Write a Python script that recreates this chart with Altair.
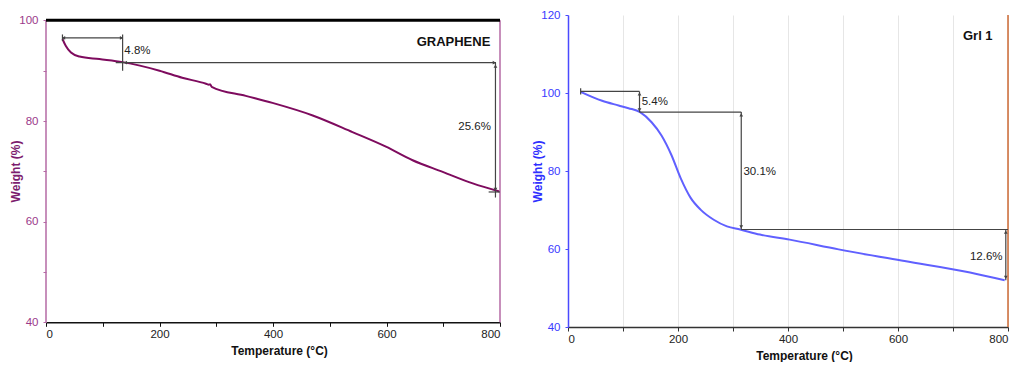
import altair as alt
import pandas as pd

# ---------------- data ----------------
g_temp = [29, 35, 44, 59, 94, 135, 200, 240, 282, 287, 289, 292, 352, 399, 470, 540, 599, 646, 699, 752, 799]
g_weight = [96.3, 94.9, 93.6, 92.8, 92.3, 91.7, 90.0, 88.6, 87.4, 87.2, 87.3, 86.8, 85.0, 83.6, 81.1, 77.8, 74.9, 72.2, 69.9, 67.6, 66.0]

r_temp = [23, 62, 92, 110, 131, 152, 170, 188, 205, 223, 241, 265, 289, 313, 349, 403, 492, 612, 731, 794]
r_weight = [100.3, 98.0, 96.8, 96.1, 95.1, 92.5, 89.1, 84.1, 78.1, 73.1, 70.1, 67.5, 65.8, 65.0, 63.7, 62.4, 59.9, 56.9, 54.0, 52.0]

# annotation segments (data coords)
g_seg_x = [29, 29, 135, 123, 792, 780]
g_seg_x2 = [135, 29, 135, 793, 792, 800]
g_seg_y = [96.5, 97.2, 97.2, 91.6, 91.6, 65.9]
g_seg_y2 = [96.5, 95.9, 90.0, 91.6, 64.8, 65.9]
g_arr_x = [31, 133, 140, 790, 792, 792]
g_arr_y = [96.5, 96.5, 91.6, 91.6, 90.9, 66.4]
g_arr_s = ["triangle-left", "triangle-right", "triangle-left", "triangle-right", "triangle-up", "triangle-down"]
g_txt = ["4.8%", "25.6%"]
g_txt_x = [138, 784]
g_txt_y = [93.9, 78.8]
g_txt_align = ["left", "right"]
g_label = "GRAPHENE"

r_seg_x = [23, 23, 130, 130, 315, 315, 796]
r_seg_x2 = [130, 23, 130, 315, 315, 800, 796]
r_seg_y = [100.4, 101.2, 100.4, 95.1, 95.1, 65.0, 65.0]
r_seg_y2 = [100.4, 99.6, 95.1, 95.1, 65.0, 65.0, 52.0]
r_arr_x = [130, 130, 315, 315, 796, 796]
r_arr_y = [99.8, 95.7, 94.4, 65.7, 64.3, 52.7]
r_arr_s = ["triangle-up", "triangle-down", "triangle-up", "triangle-down", "triangle-up", "triangle-down"]
r_txt = ["5.4%", "30.1%", "12.6%"]
r_txt_x = [134, 319, 790]
r_txt_y = [97.8, 79.7, 58.0]
r_txt_align = ["left", "left", "right"]
r_label = "Grl 1"

x_ticks = list(range(0, 801, 50))
FONT = "Liberation Sans"
ANN = "#444444"
H = 312

# ---------------- left panel: GRAPHENE ----------------
g_df = pd.DataFrame({"T": g_temp, "W": g_weight})
g_seg = pd.DataFrame({"x": g_seg_x, "x2": g_seg_x2, "y": g_seg_y, "y2": g_seg_y2})
g_arr = pd.DataFrame({"x": g_arr_x, "y": g_arr_y, "s": g_arr_s})
g_tdf = pd.DataFrame({"x": g_txt_x, "y": g_txt_y, "t": g_txt, "a": g_txt_align})

gx = alt.Scale(domain=[0, 800], nice=False, zero=False)
gy = alt.Scale(domain=[39.074, 101.064], nice=False, zero=False)

g_xaxis = alt.Axis(values=x_ticks, labelExpr="datum.value % 200 === 0 ? datum.label : ''",
                   grid=False, domainColor="#111111", domainWidth=1.5, tickColor="#111111",
                   tickSize=4, labelPadding=2, labelFontSize=11.5, labelColor="#222222",
                   title="Temperature (°C)", titleFontSize=12, titleFontWeight="bold",
                   titleColor="#111111", titlePadding=6, offset=-4.7, titleX=233,
                   labelOverlap=False)
g_yaxis = alt.Axis(values=list(range(40, 101, 5)), labelExpr="datum.value % 20 === 0 ? datum.label : ''",
                   grid=False, domain=False, tickColor="#B56AA5", tickSize=3, labelPadding=5,
                   labelFontSize=11.5, labelColor="#9B3A8A", title="Weight (%)", titleFontSize=12,
                   titleFontWeight="bold", titleColor="#7D1D6E", minExtent=22, maxExtent=22,
                   titlePadding=2, labelOverlap=False)

g_base = alt.Chart(g_df)
g_line = g_base.mark_line(color="#7E0B5E", strokeWidth=2, interpolate="monotone").encode(
    x=alt.X("T:Q", scale=gx, axis=g_xaxis),
    y=alt.Y("W:Q", scale=gy, axis=g_yaxis),
)
g_frame = pd.DataFrame({"x": [0, 800, 0], "x2": [0, 800, 800], "y": [40, 40, 100], "y2": [100, 100, 100],
                        "c": ["#B56AA5", "#B56AA5", "#000000"], "w": [1.5, 1.5, 3]})
g_border = alt.Chart(g_frame).mark_rule().encode(
    x=alt.X("x:Q", scale=gx), x2="x2:Q", y=alt.Y("y:Q", scale=gy), y2="y2:Q",
    color=alt.Color("c:N", scale=None), strokeWidth=alt.StrokeWidth("w:Q", scale=None),
)
g_rules = alt.Chart(g_seg).mark_rule(color=ANN, strokeWidth=1.2).encode(
    x=alt.X("x:Q", scale=gx), x2="x2:Q", y=alt.Y("y:Q", scale=gy), y2="y2:Q")
g_heads = alt.Chart(g_arr).mark_point(filled=True, color=ANN, size=14, opacity=1).encode(
    x=alt.X("x:Q", scale=gx), y=alt.Y("y:Q", scale=gy), shape=alt.Shape("s:N", scale=None))
g_text_l = alt.Chart(g_tdf[g_tdf.a == "left"]).mark_text(align="left", baseline="middle", fontSize=11.5, color="#222222").encode(
    x=alt.X("x:Q", scale=gx), y=alt.Y("y:Q", scale=gy), text="t:N")
g_text_r = alt.Chart(g_tdf[g_tdf.a == "right"]).mark_text(align="right", baseline="middle", fontSize=11.5, color="#222222").encode(
    x=alt.X("x:Q", scale=gx), y=alt.Y("y:Q", scale=gy), text="t:N")
g_name = alt.Chart(pd.DataFrame({"x": [783], "y": [95.7], "t": [g_label]})).mark_text(
    align="right", baseline="middle", fontSize=13, fontWeight="bold", color="#111111").encode(
    x=alt.X("x:Q", scale=gx), y=alt.Y("y:Q", scale=gy), text="t:N")

left = alt.layer(g_line, g_border, g_rules, g_heads, g_text_l, g_text_r, g_name).properties(width=454, height=H)

# ---------------- right panel: Grl 1 ----------------
r_df = pd.DataFrame({"T": r_temp, "W": r_weight})
r_seg = pd.DataFrame({"x": r_seg_x, "x2": r_seg_x2, "y": r_seg_y, "y2": r_seg_y2})
r_arr = pd.DataFrame({"x": r_arr_x, "y": r_arr_y, "s": r_arr_s})
r_tdf = pd.DataFrame({"x": r_txt_x, "y": r_txt_y, "t": r_txt, "a": r_txt_align})

rx = alt.Scale(domain=[0, 800], nice=False, zero=False)
ry = alt.Scale(domain=[40, 120], nice=False, zero=False)

r_xaxis = alt.Axis(values=x_ticks, labelExpr="datum.value % 200 === 0 ? datum.label : ''",
                   grid=True, gridColor="#E6E6E6", gridWidth=1, domainColor="#333333", domainWidth=1.5,
                   tickColor="#333333", tickSize=4, labelPadding=2, labelFontSize=11.5,
                   labelColor="#222222", title="Temperature (°C)", titleFontSize=12,
                   titleFontWeight="bold", titleColor="#111111", titlePadding=6, titleX=236,
                   labelOverlap=False)
r_yaxis = alt.Axis(values=list(range(40, 121, 5)), labelExpr="datum.value % 20 === 0 ? datum.label : ''",
                   grid=False, domainColor="#4A4AFF", domainWidth=1.5, tickColor="#4A4AFF", tickSize=3,
                   labelPadding=5, labelFontSize=11.5, labelColor="#3A3AFF", title="Weight (%)",
                   titleFontSize=12, titleFontWeight="bold", titleColor="#2F2FFF", minExtent=22,
                   maxExtent=22, titlePadding=2, labelOverlap=False)

r_line = alt.Chart(r_df).mark_line(color="#6060FF", strokeWidth=2, interpolate="monotone").encode(
    x=alt.X("T:Q", scale=rx, axis=r_xaxis),
    y=alt.Y("W:Q", scale=ry, axis=r_yaxis),
)
r_orange = alt.Chart(pd.DataFrame({"x": [800], "y": [40], "y2": [120]})).mark_rule(
    color="#CC6A35", strokeWidth=1.5).encode(
    x=alt.X("x:Q", scale=rx), y=alt.Y("y:Q", scale=ry), y2="y2:Q")
r_rules = alt.Chart(r_seg).mark_rule(color=ANN, strokeWidth=1.2).encode(
    x=alt.X("x:Q", scale=rx), x2="x2:Q", y=alt.Y("y:Q", scale=ry), y2="y2:Q")
r_heads = alt.Chart(r_arr).mark_point(filled=True, color=ANN, size=14, opacity=1).encode(
    x=alt.X("x:Q", scale=rx), y=alt.Y("y:Q", scale=ry), shape=alt.Shape("s:N", scale=None))
r_text_l = alt.Chart(r_tdf[r_tdf.a == "left"]).mark_text(align="left", baseline="middle", fontSize=11.5, color="#222222").encode(
    x=alt.X("x:Q", scale=rx), y=alt.Y("y:Q", scale=ry), text="t:N")
r_text_r = alt.Chart(r_tdf[r_tdf.a == "right"]).mark_text(align="right", baseline="middle", fontSize=11.5, color="#222222").encode(
    x=alt.X("x:Q", scale=rx), y=alt.Y("y:Q", scale=ry), text="t:N")
r_name = alt.Chart(pd.DataFrame({"x": [772], "y": [114.7], "t": [r_label]})).mark_text(
    align="right", baseline="middle", fontSize=13, fontWeight="bold", color="#111111").encode(
    x=alt.X("x:Q", scale=rx), y=alt.Y("y:Q", scale=ry), text="t:N")

right = alt.layer(r_line, r_orange, r_rules, r_heads, r_text_l, r_text_r, r_name).properties(width=440, height=H)

chart = alt.hconcat(left, right, spacing=68, bounds="flush").configure(
    font=FONT, padding={"left": 1, "top": 1, "right": 0, "bottom": 0}
).configure_view(stroke=None)

chart.save("out.html", embed_options={"renderer": "svg", "actions": False})
